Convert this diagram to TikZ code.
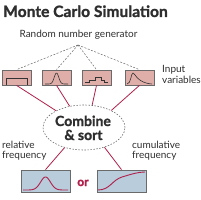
\documentclass[tikz,border=0pt]{standalone}
\usepackage{fontspec}
\setmainfont{Lato}
\newfontfamily\heavyfont{Lato}[BoldFeatures={FakeBold=1.3}]
\usetikzlibrary{shapes.geometric}
\definecolor{pinkfill}{HTML}{DFAEA9}
\definecolor{bluefill}{HTML}{B8CCDC}
\definecolor{crim}{HTML}{B0204A}
\definecolor{edge}{HTML}{6A6A6A}
\definecolor{ink}{HTML}{2E2E2E}
\tikzset{
  inbox/.style={draw=edge, fill=pinkfill, line width=0.7pt, minimum width=29pt, minimum height=15pt, inner sep=0pt},
  outbox/.style={draw=edge, fill=bluefill, line width=0.7pt, minimum width=49pt, minimum height=22pt, inner sep=0pt},
  dashlink/.style={draw=edge, dash pattern=on 2pt off 1.5pt, line width=0.5pt},
  redlink/.style={draw=crim, line width=0.8pt},
  curve/.style={draw=crim, line width=0.9pt},
  distcurve/.style={draw=black!80, line width=0.6pt},
  lbl/.style={inner sep=0pt, font=\fontsize{10}{11}\selectfont, text=ink},
  heavy/.style={inner sep=0pt, text=ink},
}
\begin{document}
\begin{tikzpicture}[x=1pt,y=-1pt]
\useasboundingbox (0,0) rectangle (200,200);
\node[heavy, anchor=base west, font=\fontsize{15.6}{17}\selectfont\heavyfont\bfseries] (title) at (3,17) {Monte Carlo Simulation};
\node[lbl, anchor=base] (rng) at (78.5,38) {Random number generator};
\coordinate (apex) at (78,45);
\node[inbox] (b1) at (16.5,77.5) {};
\node[inbox] (b2) at (56.5,77.5) {};
\node[inbox] (b3) at (96.5,77.5) {};
\node[inbox] (b4) at (139.5,77.5) {};
\node[lbl, anchor=base west] (inv) at (162,73) {Input};
\node[lbl, anchor=base west] (inv2) at (162,84) {variables};
\foreach \b in {b1,b2,b3,b4} \draw[dashlink] (apex) -- (\b.north);
% distributions
\draw[distcurve] (6,85) -- (6,78) -- (27,78) -- (27,85);
\draw[distcurve, domain=45:68, samples=50, smooth] plot (\x,{84-11*exp(-((\x-56.5)/3.2)^2)});
\draw[distcurve] (85,82) -- (89,82) -- (89,80) -- (95,80) -- (95,77) -- (101,77) -- (101,80) -- (104,80) -- (104,82) -- (108,82);
\draw[distcurve] (127,84) .. controls (131,84) and (131,73) .. (133,73) .. controls (135,73) and (137,83) .. (152,84);
% ellipse
\node[ellipse, draw=edge, dash pattern=on 1.5pt off 1.5pt, line width=0.6pt, minimum width=82pt, minimum height=45pt, inner sep=0pt] (e) at (84,127.5) {};
\node[heavy, anchor=base, font=\fontsize{14}{15}\selectfont\heavyfont\bfseries] (c1) at (83,126) {Combine};
\node[heavy, anchor=base, font=\fontsize{14}{15}\selectfont\heavyfont\bfseries] (c2) at (83.5,140) {\& sort};
\draw[redlink] (b1.south) -- (e.149);
\draw[redlink] (b2.south) -- (e.124);
\draw[redlink] (b3.south) -- (e.70);
\draw[redlink] (b4.south) -- (e.32);
% outputs
\node[outbox] (o1) at (45.5,181) {};
\node[outbox] (o2) at (121.5,181) {};
\draw[redlink] (e.226) -- (o1.north);
\draw[redlink] (e.316) -- (o2.north);
\node[lbl, anchor=base west] (rf1) at (2,148) {relative};
\node[lbl, anchor=base west] (rf2) at (2,158) {frequency};
\node[lbl, anchor=base west] (cf1) at (132,148) {cumulative};
\node[lbl, anchor=base west] (cf2) at (132,158) {frequency};
\node[anchor=base, inner sep=0pt, font=\fontsize{12}{13}\selectfont\heavyfont\bfseries, text=crim] (or) at (83,186) {or};
\draw[curve, domain=23:68, samples=60, smooth] plot (\x,{190-13*exp(-((\x-45.5)/7)^2)});
\draw[curve] (98,190) .. controls (110,190) and (112,180) .. (122,177) .. controls (132,174) and (138,172) .. (145,172);
\end{tikzpicture}
\end{document}
